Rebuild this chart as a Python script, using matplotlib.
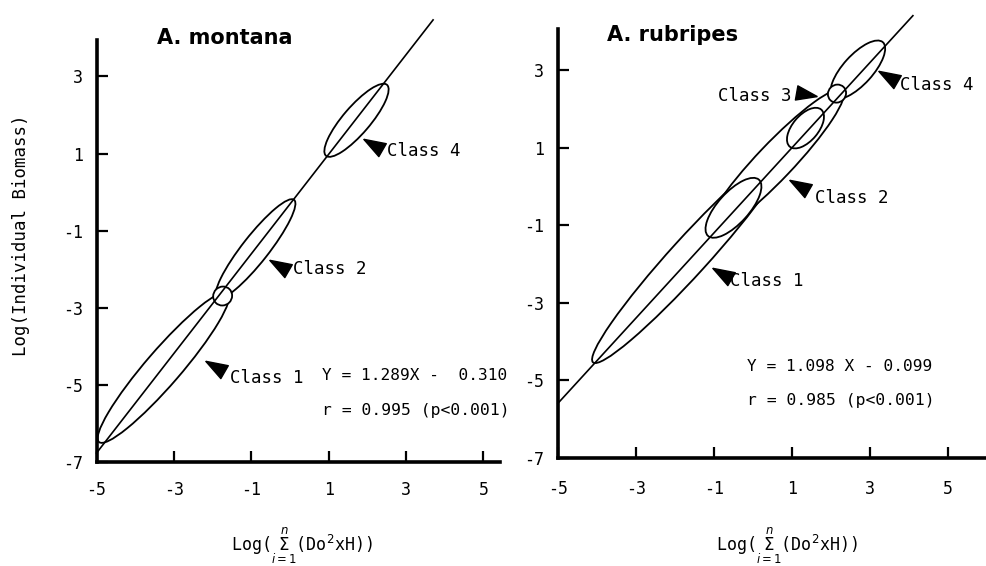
import numpy as np
import matplotlib
matplotlib.use('Agg')
import matplotlib.pyplot as plt
from matplotlib.patches import Ellipse

plt.rcParams['mathtext.fontset'] = 'dejavusans'
MONO = 'DejaVu Sans Mono'

# ---------------- data ----------------
x_ticks = [-5, -3, -1, 1, 3, 5]
y_ticks = [-7, -5, -3, -1, 1, 3]

species = ['A. montana', 'A. rubripes']
slopes = [1.289, 1.098]
intercepts = [-0.310, -0.099]
line_x_start = [-5.0, -5.0]
line_x_end = [3.7, 4.1]
equations = ['Y = 1.289X -  0.310', 'Y = 1.098 X - 0.099']
correlations = ['r = 0.995 (p<0.001)', 'r = 0.985 (p<0.001)']

# class ellipses: centre x, centre y, length, width, angle
left_cx = [-3.27, -0.89, 1.72]
left_cy = [-4.54, -1.47, 1.86]
left_len = [5.10, 3.23, 2.42]
left_wid = [0.90, 0.68, 0.70]
left_ang = [49.2, 51.9, 49.4]
# overlap ellipses
left_ov_cx = [-1.74]
left_ov_cy = [-2.69]
left_ov_len = [0.50]
left_ov_wid = [0.48]
left_ov_ang = [45.0]

right_cx = [-1.63, 0.565, 2.69]
right_cy = [-1.80, 0.642, 3.01]
right_len = [7.37, 5.07, 1.91]
right_wid = [0.95, 0.92, 0.76]
right_ang = [47.9, 46.6, 47.9]
right_ov_cx = [-0.50, 1.346, 2.154]
right_ov_cy = [-0.55, 1.505, 2.394]
right_ov_len = [1.95, 1.25, 0.48]
right_ov_wid = [0.80, 0.66, 0.45]
right_ov_ang = [48.0, 50.0, 45.0]

# class labels: text, text x, text y, arrow x, arrow y, arrow direction, ha
left_labels = ['Class 4', 'Class 2', 'Class 1']
left_lab_x = [2.51, 0.08, -1.55]
left_lab_y = [1.07, -2.00, -4.81]
left_arr_x = [2.17, -0.26, -1.91]
left_arr_y = [1.21, -1.91, -4.53]
left_arr_dir = [150, 150, 150]
left_lab_ha = ['left', 'left', 'left']

right_labels = ['Class 4', 'Class 3', 'Class 2', 'Class 1']
right_lab_x = [3.77, 0.98, 1.59, -0.59]
right_lab_y = [2.61, 2.33, -0.30, -2.44]
right_arr_x = [3.49, 1.33, 1.21, -0.77]
right_arr_y = [2.81, 2.38, 0.01, -2.26]
right_arr_dir = [150, -10, 150, 150]
right_lab_ha = ['left', 'right', 'left', 'left']

title_x = [-3.44, -3.74]
title_y = [4.00, 3.90]
eq_x = [0.83, -0.15]
eq_y = [-4.74, -4.63]
r_y = [-5.65, -5.51]

xlims = [(-5, 5.43), (-5, 6.0)]
ylims = [(-7, 3.94), (-7, 4.06)]
axes_rects = [[0.0978, 0.1829, 0.4088, 0.7465],
              [0.5653, 0.1908, 0.4347, 0.7580]]
xtick_pads = [13, 16]

panels = [
    dict(cx=left_cx, cy=left_cy, ln=left_len, wd=left_wid, an=left_ang,
         ocx=left_ov_cx, ocy=left_ov_cy, oln=left_ov_len, owd=left_ov_wid, oan=left_ov_ang,
         labs=left_labels, lx=left_lab_x, ly=left_lab_y, ax_=left_arr_x, ay=left_arr_y,
         ad=left_arr_dir, ha=left_lab_ha),
    dict(cx=right_cx, cy=right_cy, ln=right_len, wd=right_wid, an=right_ang,
         ocx=right_ov_cx, ocy=right_ov_cy, oln=right_ov_len, owd=right_ov_wid, oan=right_ov_ang,
         labs=right_labels, lx=right_lab_x, ly=right_lab_y, ax_=right_arr_x, ay=right_arr_y,
         ad=right_arr_dir, ha=right_lab_ha),
]


def arrow_marker(deg):
    base = np.array([[1.0, 0.0], [-0.75, 0.6], [-0.75, -0.6], [1.0, 0.0]])
    t = np.deg2rad(deg)
    rot = np.array([[np.cos(t), -np.sin(t)], [np.sin(t), np.cos(t)]])
    return base @ rot.T


fig = plt.figure(figsize=(9.87, 5.66), dpi=100)

for i, p in enumerate(panels):
    ax = fig.add_axes(axes_rects[i])
    ax.set_xlim(*xlims[i])
    ax.set_ylim(*ylims[i])
    for s in ['top', 'right']:
        ax.spines[s].set_visible(False)
    for s in ['left', 'bottom']:
        ax.spines[s].set_linewidth(2.6)
    ax.set_xticks(x_ticks)
    ax.set_yticks(y_ticks)
    ax.set_xticklabels([str(v) for v in x_ticks], family=MONO, fontsize=12)
    ax.set_yticklabels([str(v) for v in y_ticks], family=MONO, fontsize=12)
    ax.tick_params(axis='both', direction='in', length=8, width=1.6)
    ax.tick_params(axis='y', pad=10)
    ax.tick_params(axis='x', pad=xtick_pads[i])
    ax.patch.set_alpha(0)

    # class ellipses (later ones white-filled so earlier tips hide beneath)
    for k in range(len(p['cx'])):
        ax.add_patch(Ellipse((p['cx'][k], p['cy'][k]), p['ln'][k], p['wd'][k],
                             angle=p['an'][k], facecolor='white' if k > 0 else 'none',
                             edgecolor='black', linewidth=1.3, zorder=2 + 0.1 * k))
    # overlap ellipses
    for k in range(len(p['ocx'])):
        ax.add_patch(Ellipse((p['ocx'][k], p['ocy'][k]), p['oln'][k], p['owd'][k],
                             angle=p['oan'][k], facecolor='white', edgecolor='black',
                             linewidth=1.3, zorder=3))
    # regression line
    xs = np.array([line_x_start[i], line_x_end[i]])
    ax.plot(xs, slopes[i] * xs + intercepts[i], color='black', linewidth=1.2,
            zorder=4, clip_on=False)

    # class labels with arrowheads
    for k in range(len(p['labs'])):
        ax.plot([p['ax_'][k]], [p['ay'][k]], marker=arrow_marker(p['ad'][k]),
                markersize=17, color='black', linestyle='none', zorder=5, clip_on=False)
        ax.text(p['lx'][k], p['ly'][k], p['labs'][k], family=MONO, fontsize=12.5,
                ha=p['ha'][k], va='center', zorder=5)

    ax.text(title_x[i], title_y[i], species[i], family='DejaVu Sans', fontweight='bold',
            fontsize=15, ha='left', va='center', clip_on=False)
    ax.text(eq_x[i], eq_y[i], equations[i], family=MONO, fontsize=11.6, ha='left', va='center')
    ax.text(eq_x[i], r_y[i], correlations[i], family=MONO, fontsize=11.8, ha='left', va='center')

# axis titles
xlabel = 'Log(' + r'$\overset{n}{\underset{i=1}{\Sigma}}$' + '(Do$^{2}$xH))'
fig.text(302 / 987, 1 - 546 / 566, xlabel, family=MONO, fontsize=12, ha='center', va='center')
fig.text(787 / 987, 1 - 546 / 566, xlabel, family=MONO, fontsize=12, ha='center', va='center')
fig.text(21 / 987, 1 - 235 / 566, 'Log(Individual Biomass)', family=MONO, fontsize=12.5,
         rotation=90, ha='center', va='center')

fig.savefig('out.png', dpi=100)
